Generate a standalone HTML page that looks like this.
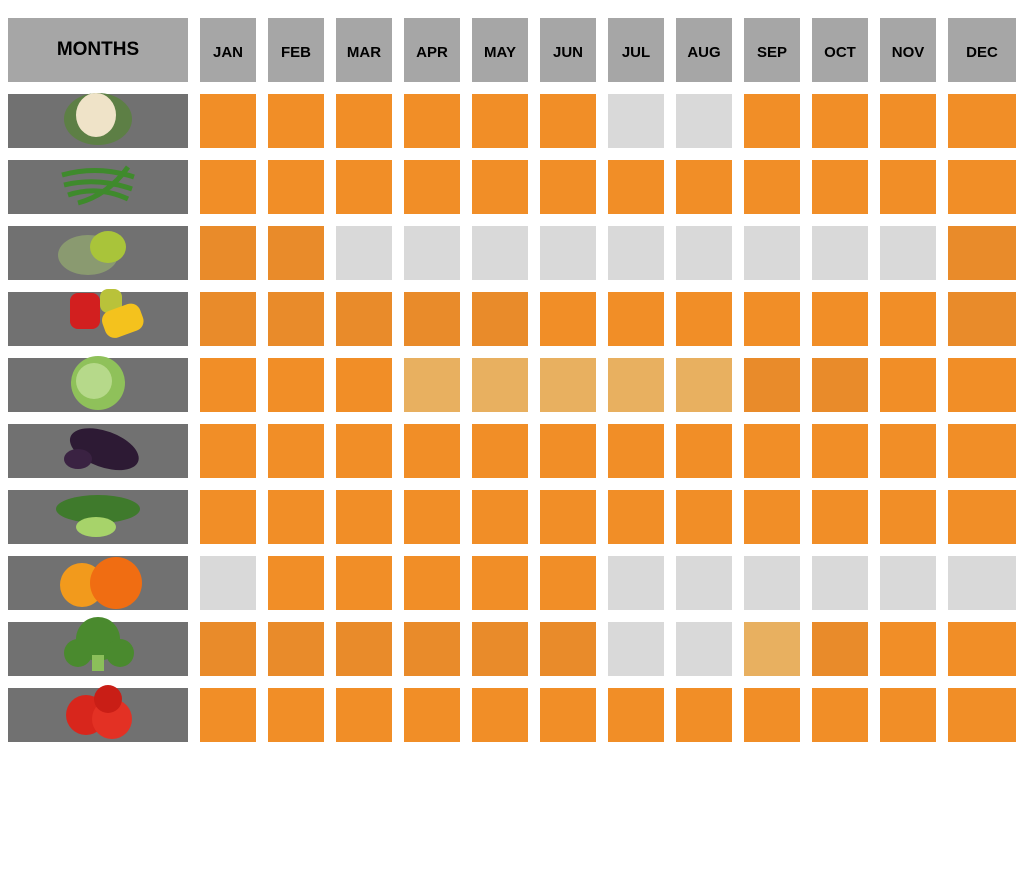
<!DOCTYPE html>
<html><head><style>
body{margin:0;width:1024px;height:878px;background:#fff;position:relative;overflow:hidden;font-family:"Liberation Sans",sans-serif}
.c{position:absolute;box-sizing:border-box}
.h{background:#a6a6a6;display:flex;align-items:center;justify-content:center;font-weight:bold;font-size:15px;color:#000}
.O{background:#f18e27}.D{background:#e98b2a}.L{background:#e8b060}.G{background:#d9d9d9}
.lab{background:#717171}
</style></head><body>
<div id="g"></div>
<script>
var months=["JAN","FEB","MAR","APR","MAY","JUN","JUL","AUG","SEP","OCT","NOV","DEC"];
var rows=["OOOOOOGGOOOO","OOOOOOOOOOOO","DDGGGGGGGGGD","DDDDDOOOOOOD","OOOLLLLLDDOO","OOOOOOOOOOOO","OOOOOOOOOOOO","GOOOOOGGGGGG","DDDDDDGGLDOO","OOOOOOOOOOOO"];
var veg=[
'<ellipse cx="0" cy="0" rx="34" ry="26" fill="#5d7f45"/><ellipse cx="-2" cy="-4" rx="20" ry="22" fill="#efe3c8"/>',
'<path d="M-36,-10 Q0,-20 36,-8 M-34,0 Q0,-8 34,4 M-30,10 Q0,0 30,14 M-20,18 Q10,10 30,-18" stroke="#3f8a2c" stroke-width="5" fill="none"/>',
'<ellipse cx="-10" cy="4" rx="30" ry="20" fill="#8a9a70"/><ellipse cx="10" cy="-4" rx="18" ry="16" fill="#a9c43a"/>',
'<rect x="-28" y="-24" width="30" height="36" rx="8" fill="#d21f1f"/><rect x="2" y="-28" width="22" height="24" rx="8" fill="#b9c23a"/><rect x="2" y="-2" width="40" height="28" rx="10" fill="#f4c21d" transform="rotate(-20)"/>',
'<circle cx="0" cy="0" r="27" fill="#8fc15a"/><circle cx="-4" cy="-2" r="18" fill="#b6d98a"/>',
'<ellipse cx="6" cy="-2" rx="36" ry="18" fill="#2d1a34" transform="rotate(20)"/><ellipse cx="-20" cy="10" rx="14" ry="10" fill="#3a2242"/>',
'<ellipse cx="0" cy="-6" rx="42" ry="14" fill="#3f7a2c"/><ellipse cx="-2" cy="12" rx="20" ry="10" fill="#a7d36a"/>',
'<circle cx="-16" cy="4" r="22" fill="#f29a1c"/><circle cx="18" cy="2" r="26" fill="#f06d12"/>',
'<circle cx="0" cy="-8" r="22" fill="#4a8a2e"/><rect x="-6" y="8" width="12" height="16" fill="#8bbf5a"/><circle cx="-20" cy="6" r="14" fill="#4a8a2e"/><circle cx="22" cy="6" r="14" fill="#4a8a2e"/>',
'<circle cx="-12" cy="2" r="20" fill="#d8261c"/><circle cx="14" cy="6" r="20" fill="#e33124"/><circle cx="10" cy="-14" r="14" fill="#c91e16"/>'
];
var h='<div class="c h" style="left:8px;top:18px;width:180px;height:64px;font-size:19px">MONTHS</div>';
for(var m=0;m<12;m++){var x=200+68*m,w=m==11?68:56;h+='<div class="c h" style="left:'+x+'px;top:18px;width:'+w+'px;height:64px;padding-top:4px">'+months[m]+'</div>';}
for(var r=0;r<10;r++){var y=94+66*r;
h+='<div class="c lab" style="left:8px;top:'+y+'px;width:180px;height:54px"></div>';
h+='<svg class="c" style="left:48px;top:'+(y-8)+'px" width="100" height="66" viewBox="-50 -33 100 66">'+veg[r]+'</svg>';
for(var m=0;m<12;m++){var x=200+68*m,w=m==11?68:56;h+='<div class="c '+rows[r][m]+'" style="left:'+x+'px;top:'+y+'px;width:'+w+'px;height:54px"></div>';}}
document.getElementById('g').innerHTML=h;
</script>
</body></html>
